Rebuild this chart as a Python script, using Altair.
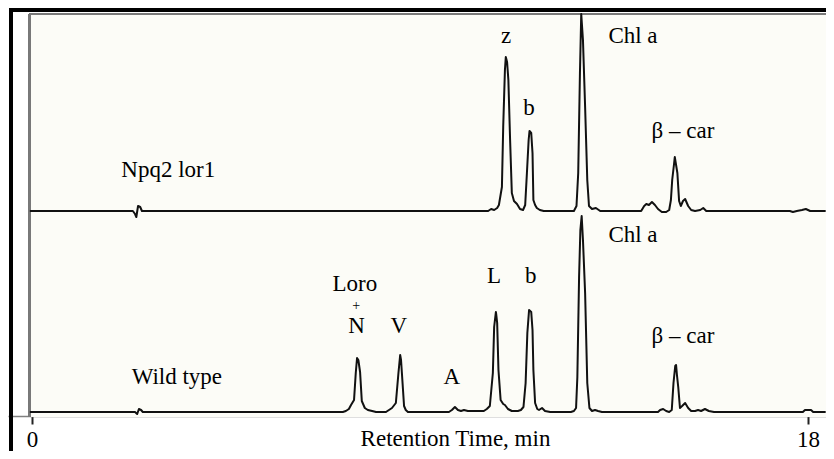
import altair as alt
import pandas as pd

# ---------------- data ----------------
# Upper chromatogram (Npq2 lor1): retention time (min) / absorbance (a.u.)
npq_time = [-0.05, 2.34, 2.39, 2.42, 2.46, 2.51, 2.55, 10.58, 10.65, 10.72, 10.79, 10.83, 10.90, 10.93,
            10.97, 10.99, 11.02, 11.05, 11.09, 11.13, 11.18, 11.25, 11.32, 11.39, 11.44, 11.48, 11.52,
            11.54, 11.58, 11.61, 11.63, 11.67, 11.71, 11.78, 11.87, 12.57, 12.63, 12.67, 12.71, 12.74,
            12.78, 12.83, 12.88, 12.92, 12.99, 13.08, 13.18, 14.13, 14.20, 14.25, 14.31, 14.38, 14.45,
            14.52, 14.61, 14.71, 14.78, 14.82, 14.85, 14.89, 14.91, 14.94, 14.97, 15.01, 15.05, 15.10,
            15.15, 15.22, 15.29, 15.38, 15.50, 15.57, 15.64, 17.58, 17.65, 17.74, 17.86, 17.95, 18.05,
            18.41]
npq_signal = [0, 0, -3, -6, 5, 4, 0, 0, 2, 1, 3, 6, 24, 84,
              141, 154, 149, 131, 71, 18, 10, 7, 2, 1, 6, 38, 71,
              80, 78, 58, 11, 6, 3, 1, 0, 0, 5, 38, 138, 197,
              171, 104, 31, 5, 2, 3, 0, 0, 5, 7, 6, 9, 6,
              2, -1, -1, 1, 11, 31, 46, 54, 46, 38, 10, 5, 10,
              12, 5, 1, 0, 1, 3, 0, 0, -1, 0, 1, 2, 0,
              0]

# Lower chromatogram (Wild type)
wt_time = [-0.05, 2.39, 2.44, 2.48, 2.53, 2.57, 7.21, 7.28, 7.35, 7.40, 7.47, 7.51, 7.54, 7.57, 7.61,
           7.65, 7.68, 7.72, 7.79, 7.89, 7.98, 8.21, 8.28, 8.35, 8.44, 8.50, 8.54, 8.56, 8.58, 8.63,
           8.67, 8.72, 9.67, 9.74, 9.81, 9.88, 9.95, 10.02, 10.11, 10.25, 10.37, 10.48, 10.55, 10.62,
           10.69, 10.72, 10.76, 10.77, 10.79, 10.82, 10.87, 10.93, 10.97, 11.04, 11.13, 11.27, 11.34,
           11.40, 11.45, 11.49, 11.53, 11.58, 11.61, 11.63, 11.67, 11.72, 11.76, 11.83, 11.90, 12.02,
           12.50, 12.57, 12.62, 12.65, 12.69, 12.72, 12.75, 12.78, 12.83, 12.88, 12.93, 12.99, 13.06,
           13.13, 13.22, 14.52, 14.57, 14.64, 14.71, 14.78, 14.84, 14.88, 14.92, 14.94, 14.96, 14.99,
           15.03, 15.08, 15.15, 15.22, 15.29, 15.38, 15.45, 15.52, 15.61, 15.70, 15.82, 17.88, 17.93,
           18.07, 18.12, 18.41]
wt_signal = [0, 0, -2, 3, 2, 0, 0, 1, 3, 7, 12, 39, 54, 52, 40,
             11, 8, 4, 2, 1, 0, 0, 2, 4, 9, 39, 57, 52, 39, 6,
             2, 0, 0, 2, 5, 2, 1, 2, 1, 1, 1, 1, 3, 6,
             39, 85, 100, 97, 89, 42, 12, 8, 7, 3, 1, 1, 2,
             5, 29, 79, 102, 100, 82, 42, 9, 3, 2, 4, 1, 0,
             0, 1, 4, 35, 135, 182, 196, 172, 119, 29, 4, 1, 2,
             1, 0, 0, 2, 3, 1, 0, 2, 29, 46, 47, 37, 25,
             4, 6, 9, 4, 1, 1, 2, 1, 3, 1, 0, 0, 2,
             2, 0, 0]

sample_names = ["Npq2 lor1", "Wild type"]

# Peak / sample annotations (time in min, value in a.u. of the stacked plot)
label_text = ["Npq2 lor1", "z", "b", "Chl a", "β – car",
              "Wild type", "Loro", "+", "N", "V", "A", "L", "b", "Chl a", "β – car"]
label_time = [3.16, 11.0, 11.53, 13.94, 15.10,
              3.36, 7.49, 7.52, 7.53, 8.51, 9.74, 10.72, 11.57, 13.94, 15.10]
label_value = [235, 369, 297, 369, 274,
               28, 121, 102, 79, 79, 28, 129, 129, 170, 69]
label_size = [23, 23, 23, 23, 23,
              23, 23, 14, 23, 23, 23, 23, 23, 23, 23]

tick_values = [0, 18]
x_title = "Retention Time, min"

# ---------------- layout ----------------
STACK_OFFSET = 201          # vertical separation of the upper trace
W, H = 818, 408
px_per_min = 776 / 18
x_domain = [-24 / px_per_min, 18 + 18 / px_per_min]
y_domain = [-4, 404]

rows = []
for i, (t, s) in enumerate(zip(npq_time, npq_signal)):
    rows.append({"sample": sample_names[0], "time": t, "value": s + STACK_OFFSET, "order": i})
for i, (t, s) in enumerate(zip(wt_time, wt_signal)):
    rows.append({"sample": sample_names[1], "time": t, "value": s, "order": i})
traces = pd.DataFrame(rows)

labels = pd.DataFrame({"text": label_text, "time": label_time,
                       "value": label_value, "size": label_size})

xscale = alt.Scale(domain=x_domain, nice=False, zero=False)
yscale = alt.Scale(domain=y_domain, nice=False, zero=False)

serif = "Liberation Serif"

panel = alt.Chart(traces).mark_rect(fill="#fcfcf7").encode(
    x=alt.value(22), x2=alt.value(W), y=alt.value(6), y2=alt.value(409))
panel_left = alt.Chart(traces).mark_rule(color="#7a7a7a", strokeWidth=1.5).encode(
    x=alt.value(21.5), y=alt.value(6), y2=alt.value(409))
panel_top = alt.Chart(traces).mark_rule(color="#7a7a7a", strokeWidth=1.5).encode(
    x=alt.value(21.5), x2=alt.value(W), y=alt.value(6))
frame_top = alt.Chart(traces).mark_rule(color="black", strokeWidth=3.5).encode(
    x=alt.value(1), x2=alt.value(W), y=alt.value(1.5))
frame_left = alt.Chart(traces).mark_rule(color="black", strokeWidth=4).encode(
    x=alt.value(3), y=alt.value(0), y2=alt.value(443))

lines = alt.Chart(traces).mark_line(color="#111111", strokeWidth=2, clip=True,
                                    strokeJoin="round").encode(
    x=alt.X("time:Q", scale=xscale,
            axis=alt.Axis(values=tick_values, format="d", grid=False,
                          labelFont=serif, labelFontSize=23, labelColor="black",
                          labelBaseline="alphabetic", labelPadding=22, labelFlush=False,
                          tickSize=8, tickWidth=2, tickColor="#222222",
                          domainColor="#808080", domainWidth=1.5,
                          title=x_title, titleFont=serif, titleFontSize=23,
                          titleFontWeight="normal", titleColor="black",
                          titleX=447, titleY=29, titleBaseline="alphabetic",
                          titleAlign="center")),
    y=alt.Y("value:Q", scale=yscale, axis=None),
    detail="sample:N",
    order="order:Q",
)

texts = alt.Chart(labels).mark_text(font=serif, color="black", baseline="alphabetic",
                                    align="center").encode(
    x=alt.X("time:Q", scale=xscale),
    y=alt.Y("value:Q", scale=yscale),
    text="text:N",
    size=alt.Size("size:Q", scale=None, legend=None),
)

chart = alt.layer(panel, panel_left, panel_top, frame_top, frame_left, lines, texts).properties(
    width=W, height=H,
    autosize=alt.AutoSizeParams(type="none"),
    padding={"left": 0, "top": 0, "right": 0, "bottom": 35},
    background="white",
).configure_view(stroke=None)

chart.save("out.html", embed_options={"renderer": "svg", "actions": False})
